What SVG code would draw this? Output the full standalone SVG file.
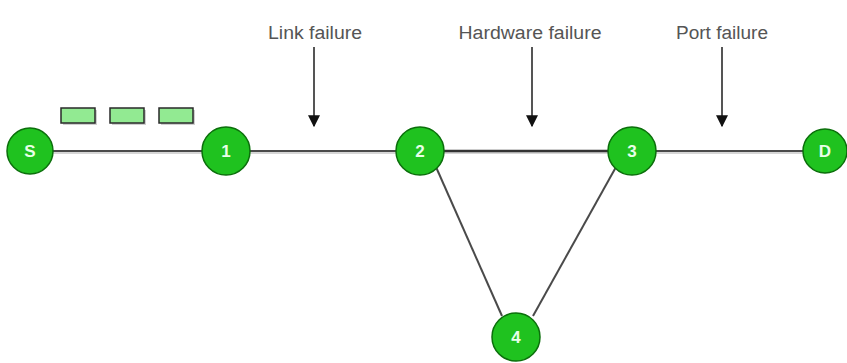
<svg xmlns="http://www.w3.org/2000/svg" width="847" height="363" viewBox="0 0 847 363">
<style>
.node circle{fill:#1fc21f;stroke:#0b6f0b;stroke-width:1.5}
.node text{fill:#e8ffe8;font-family:"Liberation Sans",Arial,sans-serif;font-weight:bold;font-size:17px;text-anchor:middle}
.edge{stroke:#4a4a4a;stroke-width:2;fill:none}
.edge-sh{stroke:#d6d6d6;stroke-width:2;fill:none}
.pkt{fill:#92ea92;stroke:#2a2a2a;stroke-width:1.5}
.pkt-sh{fill:#cfcfcf}
.lbl{fill:#555;font-family:"Liberation Sans",Arial,sans-serif;font-size:18px;text-anchor:middle}
.arr{stroke:#555;stroke-width:2;fill:none;marker-end:url(#ah)}
</style>
<defs>
<marker id="ah" viewBox="0 0 10 10" refX="9" refY="5" markerWidth="6" markerHeight="6" orient="auto" markerUnits="strokeWidth">
<path d="M0,0 L10,5 L0,10 z" fill="#111"/>
</marker>
</defs>
<rect width="847" height="363" fill="#fff"/>
<g id="connectors">
<line class="edge-sh" x1="30" y1="153" x2="826" y2="153"/>
<line class="edge" x1="30" y1="151" x2="226" y2="151"/>
<line class="edge" x1="226" y1="151" x2="420" y2="151"/>
<line class="edge" x1="420" y1="151" x2="632" y2="151" style="stroke:#333;stroke-width:2.5"/>
<line class="edge" x1="632" y1="151" x2="826" y2="151"/>
<line class="edge" x1="436" y1="167" x2="502" y2="316"/>
<line class="edge" x1="616" y1="167" x2="533" y2="316"/>
</g>
<g id="packets">
<rect class="pkt-sh" x="63" y="110" width="34" height="15"/>
<rect class="pkt-sh" x="112" y="110" width="34" height="15"/>
<rect class="pkt-sh" x="161" y="110" width="34" height="15"/>
<rect class="pkt" x="61" y="108" width="34" height="15"/>
<rect class="pkt" x="110" y="108" width="34" height="15"/>
<rect class="pkt" x="159" y="108" width="34" height="15"/>
</g>
<g id="failures">
<text class="lbl" x="315" y="39" textLength="94" lengthAdjust="spacingAndGlyphs">Link failure</text>
<line class="arr" x1="314" y1="47" x2="314" y2="126"/>
<text class="lbl" x="530" y="39" textLength="143" lengthAdjust="spacingAndGlyphs">Hardware failure</text>
<line class="arr" x1="532" y1="47" x2="532" y2="126"/>
<text class="lbl" x="722" y="39" textLength="92" lengthAdjust="spacingAndGlyphs">Port failure</text>
<line class="arr" x1="722" y1="47" x2="722" y2="126"/>
</g>
<g id="node-S" class="node"><circle cx="30" cy="151" r="23"/><text x="30" y="157">S</text></g>
<g id="node-1" class="node"><circle cx="226" cy="151" r="24"/><text x="226" y="157">1</text></g>
<g id="node-2" class="node"><circle cx="420" cy="151" r="24"/><text x="420" y="157">2</text></g>
<g id="node-3" class="node"><circle cx="632" cy="151" r="24"/><text x="632" y="157">3</text></g>
<g id="node-D" class="node"><circle cx="825" cy="151" r="22"/><text x="825" y="157">D</text></g>
<g id="node-4" class="node"><circle cx="516" cy="337" r="24"/><text x="516" y="343">4</text></g>
</svg>
